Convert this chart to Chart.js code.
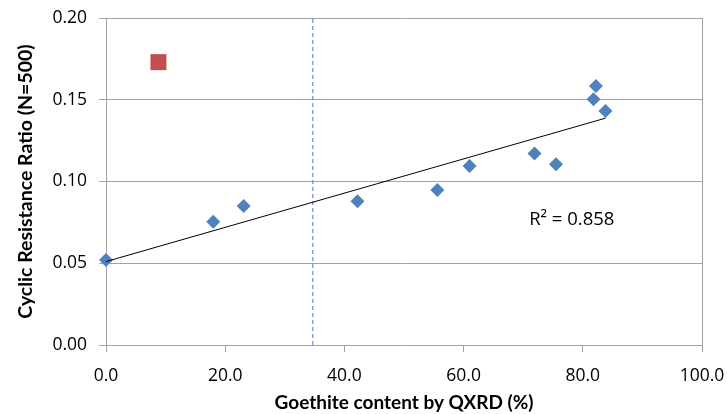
<!DOCTYPE html>
<html>
<head>
<meta charset="utf-8">
<script src="https://cdn.jsdelivr.net/npm/chart.js@4.4.1/dist/chart.umd.min.js"></script>
<style>
  html, body { margin: 0; padding: 0; background: #fff; }
  #wrap { width: 727px; height: 414px; }
</style>
</head>
<body>
<div id="wrap"><canvas id="grafica"></canvas></div>
<script>
// Goethite content (%) vs cyclic resistance ratio at N=500
const goethite = [0, 18.0, 23.1, 42.2, 55.6, 61.0, 71.9, 75.5, 81.8, 82.2, 83.8];
const crr = [0.052, 0.0754, 0.085, 0.0879, 0.0948, 0.1095, 0.1172, 0.1105, 0.1503, 0.1584, 0.1431];
// sample kept out of the fit
const outlierX = [8.8];
const outlierY = [0.173];
// dashed reference line
const limiteX = 34.7;
const r2Texto = 'R\u00B2 = 0.858';

const gris = '#a3a3a3';
const fuenteEjes = '"Open Sans", sans-serif';
const fuenteTitulos = 'Lato, "Open Sans", sans-serif';

// least squares line through the blue points
function ajusteLineal(xs, ys) {
    const n = xs.length;
    const mx = xs.reduce((a, b) => a + b, 0) / n;
    const my = ys.reduce((a, b) => a + b, 0) / n;
    let sxy = 0, sxx = 0;
    for (let i = 0; i < n; i++) {
        sxy += (xs[i] - mx) * (ys[i] - my);
        sxx += (xs[i] - mx) * (xs[i] - mx);
    }
    const m = sxy / sxx;
    return { m: m, b: my - m * mx };
}
const fit = ajusteLineal(goethite, crr);
const xMin = Math.min(...goethite), xMax = Math.max(...goethite);
const tendencia = [
    { x: xMin, y: fit.b + fit.m * xMin },
    { x: xMax, y: fit.b + fit.m * xMax }
];

// R² text next to the trend line
const etiquetaR2 = {
    id: 'etiquetaR2',
    afterDatasetsDraw(chart) {
        const { ctx, scales } = chart;
        ctx.save();
        ctx.font = '18.5px ' + fuenteEjes;
        ctx.fillStyle = '#000';
        ctx.textBaseline = 'middle';
        ctx.textAlign = 'left';
        ctx.fillText(r2Texto, scales.x.getPixelForValue(71.0), scales.y.getPixelForValue(0.0765));
        ctx.restore();
    }
};

new Chart('grafica', {
    type: 'scatter',
    data: {
        datasets: [
            {
                type: 'line',
                data: tendencia,
                borderColor: '#000',
                borderWidth: 1,
                pointRadius: 0,
                fill: false,
                clip: false
            },
            {
                data: goethite.map((x, i) => ({ x: x, y: crr[i] })),
                pointStyle: 'rectRot',
                pointRadius: 7,
                pointHoverRadius: 7,
                backgroundColor: '#4f81bd',
                borderColor: '#4f81bd',
                borderWidth: 0,
                clip: false
            },
            {
                data: outlierX.map((x, i) => ({ x: x, y: outlierY[i] })),
                pointStyle: 'rect',
                pointRadius: 11.3,
                pointHoverRadius: 11.3,
                backgroundColor: '#c0504d',
                borderColor: '#c0504d',
                borderWidth: 0
            },
            {
                type: 'line',
                data: [{ x: limiteX, y: 0 }, { x: limiteX, y: 0.2 }],
                borderColor: '#4a7ebb',
                borderWidth: 1,
                borderDash: [4, 3],
                pointRadius: 0,
                fill: false
            }
        ]
    },
    options: {
        responsive: true,
        maintainAspectRatio: false,
        animation: false,
        layout: { autoPadding: false, padding: { left: 0, top: 18, right: 25, bottom: 0 } },
        plugins: {
            legend: { display: false },
            tooltip: { enabled: false }
        },
        scales: {
            x: {
                type: 'linear',
                min: 0,
                max: 100,
                afterFit: (s) => { s.height = 69; s.paddingLeft = 0; s.paddingRight = 0; },
                ticks: {
                    stepSize: 20,
                    padding: 14,
                    color: '#000',
                    font: { family: fuenteEjes, size: 17.5 },
                    callback: (v) => v.toFixed(1)
                },
                grid: {
                    // only the right edge gets a vertical line
                    color: (c) => (c.tick && c.tick.value === 100) ? gris : 'transparent',
                    tickColor: gris,
                    tickLength: 7,
                    lineWidth: 1
                },
                border: { display: false },
                title: {
                    display: true,
                    text: 'Goethite content by QXRD (%)',
                    color: '#000',
                    font: { family: fuenteTitulos, size: 19, weight: 'bold' },
                    padding: { top: 4, bottom: 0 }
                }
            },
            y: {
                min: 0,
                max: 0.2,
                afterFit: (s) => { s.width = 106; s.paddingTop = 0; s.paddingBottom = 0; },
                ticks: {
                    stepSize: 0.05,
                    padding: 12,
                    color: '#000',
                    font: { family: fuenteEjes, size: 17.5 },
                    callback: (v) => v.toFixed(2)
                },
                grid: {
                    color: gris,
                    tickColor: gris,
                    tickLength: 7,
                    lineWidth: 1
                },
                border: { display: true, color: gris, width: 1 },
                title: {
                    display: true,
                    text: 'Cyclic Resistance Ratio (N=500)',
                    color: '#000',
                    font: { family: fuenteTitulos, size: 19.5, weight: 'bold' },
                    padding: { top: 14, bottom: 0 }
                }
            }
        }
    },
    plugins: [etiquetaR2]
});
</script>
</body>
</html>
